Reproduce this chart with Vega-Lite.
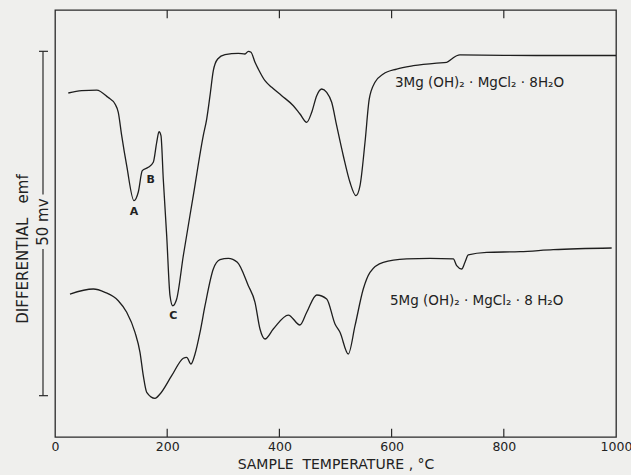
{
  "$schema": "https://vega.github.io/schema/vega-lite/v6.json",
  "width": 561,
  "height": 427,
  "autosize": {"type": "none"},
  "padding": {"left": 55, "top": 10, "right": 15, "bottom": 38},
  "background": "#efefed",
  "config": {
    "view": {"stroke": "#2a2a2a", "strokeWidth": 1.3},
    "font": "DejaVu Sans"
  },
  "datasets": {
    "curves": [
      {"s": "3Mg", "T": 23.7, "mv": 49.95},
      {"s": "3Mg", "T": 47.6, "mv": 50.28},
      {"s": "3Mg", "T": 74.3, "mv": 50.38},
      {"s": "3Mg", "T": 94.5, "mv": 49.32},
      {"s": "3Mg", "T": 107.0, "mv": 48.35},
      {"s": "3Mg", "T": 112.8, "mv": 47.15},
      {"s": "3Mg", "T": 118.9, "mv": 43.75},
      {"s": "3Mg", "T": 127.8, "mv": 39.39},
      {"s": "3Mg", "T": 140.8, "mv": 34.31},
      {"s": "3Mg", "T": 148.5, "mv": 35.57},
      {"s": "3Mg", "T": 155.6, "mv": 38.67},
      {"s": "3Mg", "T": 166.3, "mv": 39.16},
      {"s": "3Mg", "T": 175.2, "mv": 39.89},
      {"s": "3Mg", "T": 181.3, "mv": 42.79},
      {"s": "3Mg", "T": 185.4, "mv": 44.33},
      {"s": "3Mg", "T": 188.9, "mv": 43.75},
      {"s": "3Mg", "T": 193.0, "mv": 37.46},
      {"s": "3Mg", "T": 199.1, "mv": 29.23},
      {"s": "3Mg", "T": 205.0, "mv": 20.52},
      {"s": "3Mg", "T": 209.8, "mv": 19.06},
      {"s": "3Mg", "T": 216.9, "mv": 20.04},
      {"s": "3Mg", "T": 228.7, "mv": 26.32},
      {"s": "3Mg", "T": 246.5, "mv": 35.04},
      {"s": "3Mg", "T": 264.3, "mv": 43.75},
      {"s": "3Mg", "T": 270.4, "mv": 46.17},
      {"s": "3Mg", "T": 276.3, "mv": 49.56},
      {"s": "3Mg", "T": 282.2, "mv": 53.19},
      {"s": "3Mg", "T": 290.0, "mv": 54.89},
      {"s": "3Mg", "T": 303.0, "mv": 55.51},
      {"s": "3Mg", "T": 326.7, "mv": 55.71},
      {"s": "3Mg", "T": 338.7, "mv": 55.61},
      {"s": "3Mg", "T": 344.6, "mv": 56.0},
      {"s": "3Mg", "T": 349.4, "mv": 55.86},
      {"s": "3Mg", "T": 356.5, "mv": 54.41},
      {"s": "3Mg", "T": 362.4, "mv": 53.43},
      {"s": "3Mg", "T": 374.3, "mv": 51.73},
      {"s": "3Mg", "T": 386.3, "mv": 50.78},
      {"s": "3Mg", "T": 404.1, "mv": 49.56},
      {"s": "3Mg", "T": 424.8, "mv": 48.1},
      {"s": "3Mg", "T": 436.7, "mv": 46.9},
      {"s": "3Mg", "T": 448.7, "mv": 45.69},
      {"s": "3Mg", "T": 457.6, "mv": 47.15},
      {"s": "3Mg", "T": 466.5, "mv": 49.56},
      {"s": "3Mg", "T": 475.4, "mv": 50.53},
      {"s": "3Mg", "T": 484.3, "mv": 50.05},
      {"s": "3Mg", "T": 493.2, "mv": 48.6},
      {"s": "3Mg", "T": 502.1, "mv": 45.2},
      {"s": "3Mg", "T": 513.9, "mv": 40.84},
      {"s": "3Mg", "T": 525.8, "mv": 36.98},
      {"s": "3Mg", "T": 536.5, "mv": 35.04},
      {"s": "3Mg", "T": 543.7, "mv": 36.49},
      {"s": "3Mg", "T": 552.6, "mv": 42.79},
      {"s": "3Mg", "T": 560.2, "mv": 49.08},
      {"s": "3Mg", "T": 570.4, "mv": 51.5},
      {"s": "3Mg", "T": 585.2, "mv": 52.71},
      {"s": "3Mg", "T": 609.1, "mv": 53.43},
      {"s": "3Mg", "T": 638.7, "mv": 53.91},
      {"s": "3Mg", "T": 680.4, "mv": 54.3},
      {"s": "3Mg", "T": 698.2, "mv": 54.41},
      {"s": "3Mg", "T": 707.1, "mv": 54.89},
      {"s": "3Mg", "T": 716.0, "mv": 55.36},
      {"s": "3Mg", "T": 721.9, "mv": 55.47},
      {"s": "3Mg", "T": 864.5, "mv": 55.39},
      {"s": "3Mg", "T": 1000, "mv": 55.39},
      {"s": "5Mg", "T": 26.7, "mv": 20.76},
      {"s": "5Mg", "T": 68.3, "mv": 21.49},
      {"s": "5Mg", "T": 89.1, "mv": 21.01},
      {"s": "5Mg", "T": 112.8, "mv": 19.79},
      {"s": "5Mg", "T": 127.8, "mv": 18.11},
      {"s": "5Mg", "T": 142.6, "mv": 15.2},
      {"s": "5Mg", "T": 151.5, "mv": 12.3},
      {"s": "5Mg", "T": 157.4, "mv": 8.9},
      {"s": "5Mg", "T": 163.5, "mv": 6.49},
      {"s": "5Mg", "T": 178.3, "mv": 5.62},
      {"s": "5Mg", "T": 187.2, "mv": 6.24},
      {"s": "5Mg", "T": 208.0, "mv": 8.9},
      {"s": "5Mg", "T": 228.7, "mv": 11.43},
      {"s": "5Mg", "T": 234.8, "mv": 11.57},
      {"s": "5Mg", "T": 242.4, "mv": 10.6},
      {"s": "5Mg", "T": 249.6, "mv": 12.05},
      {"s": "5Mg", "T": 258.5, "mv": 15.2},
      {"s": "5Mg", "T": 267.4, "mv": 19.06},
      {"s": "5Mg", "T": 282.2, "mv": 24.39},
      {"s": "5Mg", "T": 294.1, "mv": 25.74},
      {"s": "5Mg", "T": 308.9, "mv": 25.95},
      {"s": "5Mg", "T": 325.0, "mv": 25.37},
      {"s": "5Mg", "T": 344.6, "mv": 21.97},
      {"s": "5Mg", "T": 356.5, "mv": 19.56},
      {"s": "5Mg", "T": 365.4, "mv": 15.68},
      {"s": "5Mg", "T": 374.3, "mv": 14.23},
      {"s": "5Mg", "T": 389.1, "mv": 15.68},
      {"s": "5Mg", "T": 415.9, "mv": 17.71},
      {"s": "5Mg", "T": 436.7, "mv": 16.26},
      {"s": "5Mg", "T": 448.7, "mv": 18.11},
      {"s": "5Mg", "T": 466.5, "mv": 20.62},
      {"s": "5Mg", "T": 484.3, "mv": 20.04},
      {"s": "5Mg", "T": 499.1, "mv": 16.41},
      {"s": "5Mg", "T": 508.0, "mv": 15.2},
      {"s": "5Mg", "T": 522.8, "mv": 12.05},
      {"s": "5Mg", "T": 534.8, "mv": 16.16},
      {"s": "5Mg", "T": 549.5, "mv": 21.49},
      {"s": "5Mg", "T": 561.5, "mv": 23.91},
      {"s": "5Mg", "T": 585.2, "mv": 25.37},
      {"s": "5Mg", "T": 626.9, "mv": 25.85},
      {"s": "5Mg", "T": 668.4, "mv": 25.95},
      {"s": "5Mg", "T": 710.0, "mv": 25.85},
      {"s": "5Mg", "T": 716.0, "mv": 24.87},
      {"s": "5Mg", "T": 724.9, "mv": 24.39},
      {"s": "5Mg", "T": 730.8, "mv": 25.37},
      {"s": "5Mg", "T": 736.7, "mv": 26.43},
      {"s": "5Mg", "T": 769.5, "mv": 26.82},
      {"s": "5Mg", "T": 828.9, "mv": 26.91},
      {"s": "5Mg", "T": 888.2, "mv": 27.2},
      {"s": "5Mg", "T": 992.3, "mv": 27.44}
    ],
    "names": [
      {"T": 606, "mv": 51.4, "label": "3Mg (OH)₂ · MgCl₂ · 8H₂O"},
      {"T": 597, "mv": 19.8, "label": "5Mg (OH)₂ · MgCl₂ · 8 H₂O"}
    ],
    "peaks": [
      {"T": 140.8, "mv": 32.6, "label": "A"},
      {"T": 170.6, "mv": 37.3, "label": "B"},
      {"T": 210.9, "mv": 17.6, "label": "C"}
    ],
    "ticks": [{"T": 200}, {"T": 400}, {"T": 600}, {"T": 800}],
    "barV": [
      {"T": -21.4, "lo": 6, "hi": 27.3},
      {"T": -21.4, "lo": 35.2, "hi": 56}
    ],
    "barH": [
      {"T1": -28.5, "T2": -12.5, "mv": 6},
      {"T1": -28.5, "T2": -12.5, "mv": 56}
    ],
    "ylabels": [
      {"T": -21.4, "mv": 31.2, "label": "50 mv"},
      {"T": -57, "mv": 27.3, "label": "DIFFERENTIAL\u00a0\u00a0\u00a0emf"}
    ]
  },
  "layer": [
    {
      "data": {"name": "curves"},
      "mark": {"type": "line", "interpolate": "monotone", "color": "#1e1e1e", "strokeWidth": 1.3},
      "encoding": {
        "x": {
          "field": "T", "type": "quantitative",
          "scale": {"domain": [0, 1000], "nice": false, "zero": false},
          "axis": {
            "values": [0, 200, 400, 600, 800, 1000],
            "format": "d",
            "ticks": false,
            "domain": false,
            "grid": false,
            "labelFontSize": 12.5,
            "labelColor": "#222",
            "labelPadding": 3,
            "labelFlush": false,
            "title": "SAMPLE\u00a0\u00a0TEMPERATURE\u00a0,\u00a0°C",
            "titleFontSize": 14,
            "titleFontWeight": "normal",
            "titleColor": "#222",
            "titlePadding": 5
          }
        },
        "y": {
          "field": "mv", "type": "quantitative",
          "scale": {"domain": [0, 62], "nice": false, "zero": false},
          "axis": null
        },
        "detail": {"field": "s"}
      }
    },
    {
      "data": {"name": "ticks"},
      "mark": {"type": "rule", "color": "#2a2a2a", "strokeWidth": 1.2},
      "encoding": {
        "x": {"field": "T", "type": "quantitative"},
        "y": {"datum": 0},
        "y2": {"datum": 1.2}
      }
    },
    {
      "data": {"name": "ticks"},
      "mark": {"type": "rule", "color": "#2a2a2a", "strokeWidth": 1.2},
      "encoding": {
        "x": {"field": "T", "type": "quantitative"},
        "y": {"datum": 62},
        "y2": {"datum": 60.8}
      }
    },
    {
      "data": {"name": "barV"},
      "mark": {"type": "rule", "color": "#2a2a2a", "strokeWidth": 1.2},
      "encoding": {
        "x": {"field": "T", "type": "quantitative"},
        "y": {"field": "lo", "type": "quantitative"},
        "y2": {"field": "hi"}
      }
    },
    {
      "data": {"name": "barH"},
      "mark": {"type": "rule", "color": "#2a2a2a", "strokeWidth": 1.2},
      "encoding": {
        "x": {"field": "T1", "type": "quantitative"},
        "x2": {"field": "T2"},
        "y": {"field": "mv", "type": "quantitative"}
      }
    },
    {
      "data": {"name": "ylabels"},
      "mark": {"type": "text", "angle": 270, "align": "center", "baseline": "middle", "color": "#222", "fontSize": 15},
      "encoding": {
        "x": {"field": "T", "type": "quantitative"},
        "y": {"field": "mv", "type": "quantitative"},
        "text": {"field": "label"}
      }
    },
    {
      "data": {"name": "names"},
      "mark": {"type": "text", "align": "left", "baseline": "middle", "color": "#222", "fontSize": 13.5},
      "encoding": {
        "x": {"field": "T", "type": "quantitative"},
        "y": {"field": "mv", "type": "quantitative"},
        "text": {"field": "label"}
      }
    },
    {
      "data": {"name": "peaks"},
      "mark": {"type": "text", "align": "center", "baseline": "middle", "color": "#222", "fontSize": 11, "fontWeight": "bold"},
      "encoding": {
        "x": {"field": "T", "type": "quantitative"},
        "y": {"field": "mv", "type": "quantitative"},
        "text": {"field": "label"}
      }
    }
  ]
}
